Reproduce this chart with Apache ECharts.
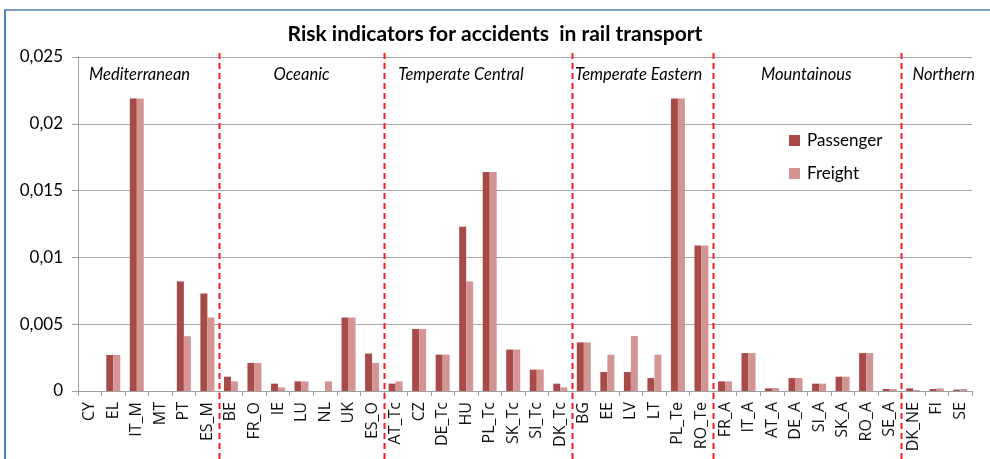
<!DOCTYPE html>
<html>
<head>
<meta charset="utf-8">
<script src="https://cdn.jsdelivr.net/npm/echarts@6/dist/echarts.min.js"></script>
<style>
  html, body { margin: 0; padding: 0; background: #fff; }
  #chart { width: 990px; height: 459px; }
</style>
</head>
<body>
<div id="chart"></div>
<script>
// Member states / sub-areas, grouped by climate region
const categories = [
  'CY', 'EL', 'IT_M', 'MT', 'PT', 'ES_M',
  'BE', 'FR_O', 'IE', 'LU', 'NL', 'UK', 'ES_O',
  'AT_Tc', 'CZ', 'DE_Tc', 'HU', 'PL_Tc', 'SK_Tc', 'SI_Tc', 'DK_Tc',
  'BG', 'EE', 'LV', 'LT', 'PL_Te', 'RO_Te',
  'FR_A', 'IT_A', 'AT_A', 'DE_A', 'SI_A', 'SK_A', 'RO_A', 'SE_A',
  'DK_NE', 'FI', 'SE'
];

const passenger = [
  0, 0.0027, 0.0219, 0, 0.0082, 0.0073,
  0.00107, 0.0021, 0.00055, 0.00072, 0, 0.0055, 0.0028,
  0.00055, 0.00464, 0.00272, 0.0123, 0.0164, 0.0031, 0.0016, 0.00055,
  0.00364, 0.00142, 0.00142, 0.00097, 0.0219, 0.0109,
  0.00072, 0.00284, 0.0002, 0.00097, 0.00055, 0.00107, 0.00284, 0.00015,
  0.0002, 0.00015, 0.0001
];

const freight = [
  0, 0.0027, 0.0219, 0, 0.0041, 0.0055,
  0.00072, 0.0021, 0.00027, 0.00072, 0.00072, 0.0055, 0.0021,
  0.00072, 0.00464, 0.00272, 0.0082, 0.0164, 0.0031, 0.0016, 0.00027,
  0.00364, 0.00272, 0.00412, 0.00272, 0.0219, 0.0109,
  0.00072, 0.00284, 0.00022, 0.00097, 0.00055, 0.00107, 0.00284, 0.00015,
  0.00007, 0.0002, 0.00015
];

// Climate regions: name and index of the first category in each
const regionNames = ['Mediterranean', 'Oceanic', 'Temperate Central', 'Temperate Eastern', 'Mountainous', 'Northern'];
const regionStarts = [0, 6, 13, 21, 27, 35];

const yTicks = { min: 0, max: 0.025, interval: 0.005 };

const PASSENGER_COLOR = '#A84A47';
const FREIGHT_COLOR = '#D39593';

const chart = echarts.init(document.getElementById('chart'), null, { renderer: 'canvas' });

chart.setOption({
  animation: false,
  backgroundColor: '#ffffff',
  title: {
    text: 'Risk indicators for accidents  in rail transport',
    left: 'center',
    top: 19,
    textStyle: { fontFamily: 'Lato', fontWeight: 'bold', fontSize: 21, color: '#000' }
  },
  legend: {
    orient: 'vertical',
    left: 784,
    top: 127,
    itemWidth: 11,
    itemHeight: 11,
    itemGap: 16,
    icon: 'rect',
    textStyle: { fontFamily: 'Lato', fontSize: 17, color: '#000', padding: [0, 0, 0, 2] },
    data: ['Passenger', 'Freight']
  },
  grid: { left: 78, top: 57, right: 18, bottom: 68, containLabel: false },
  xAxis: {
    type: 'category',
    data: categories,
    axisLine: { show: true, lineStyle: { color: '#A0A0A0', width: 1 } },
    axisTick: { show: true, alignWithLabel: false, length: 5, lineStyle: { color: '#A0A0A0' } },
    axisLabel: {
      interval: 0,
      rotate: 90,
      margin: 11,
      fontFamily: 'Open Sans',
      fontSize: 16,
      color: '#111'
    }
  },
  yAxis: {
    type: 'value',
    min: yTicks.min,
    max: yTicks.max,
    interval: yTicks.interval,
    axisLine: { show: true, lineStyle: { color: '#A0A0A0', width: 1 } },
    axisTick: { show: true, length: 6, lineStyle: { color: '#A0A0A0' } },
    splitLine: { show: true, lineStyle: { color: '#A6A6A6', width: 1 } },
    axisLabel: {
      margin: 15,
      fontFamily: 'Lato',
      fontSize: 17,
      color: '#000',
      formatter: v => String(+v.toFixed(3)).replace('.', ',')
    }
  },
  series: [
    {
      name: 'Passenger',
      type: 'bar',
      data: passenger,
      barWidth: 7,
      barGap: '0%',
      itemStyle: { color: PASSENGER_COLOR }
    },
    {
      name: 'Freight',
      type: 'bar',
      data: freight,
      barWidth: 7,
      barGap: '0%',
      itemStyle: { color: FREIGHT_COLOR }
    }
  ]
});

// Region separators and region names, placed from the category axis
function catX(i) {
  return chart.convertToPixel({ xAxisIndex: 0 }, i);
}
const half = (catX(1) - catX(0)) / 2;
const graphics = [];

regionStarts.forEach((start, r) => {
  if (r > 0) {
    const x = Math.round(catX(start) - half) + 0.5;
    graphics.push({
      type: 'line',
      silent: true,
      shape: { x1: x, y1: 53, x2: x, y2: 459 },
      style: { stroke: '#FF1A1A', lineWidth: 2, lineDash: [6, 4] },
      z: 10
    });
  }
});

// Region name positions: centred over the region, a few nudged left
const regionNudge = [-9, 0, -17, -4, -1, 0];
regionNames.forEach((name, r) => {
  const start = regionStarts[r];
  const end = r + 1 < regionStarts.length ? regionStarts[r + 1] : categories.length;
  const cx = (catX(start) - half + catX(end - 1) + half) / 2 + regionNudge[r];
  const isLast = r === regionNames.length - 1;
  graphics.push({
    type: 'text',
    silent: true,
    x: isLast ? catX(start) - half + 11 : cx,
    y: 75,
    style: {
      text: name,
      fontFamily: 'Lato',
      fontStyle: 'italic',
      fontSize: 16.5,
      fill: '#000',
      align: isLast ? 'left' : 'center',
      verticalAlign: 'middle'
    },
    z: 10
  });
});

// Outer chart frame (top and left edges)
graphics.push({
  type: 'line', silent: true,
  shape: { x1: 4, y1: 10, x2: 990, y2: 10 },
  style: { stroke: '#7F9CC4', lineWidth: 2 }
});
graphics.push({
  type: 'line', silent: true,
  shape: { x1: 5, y1: 10, x2: 5, y2: 459 },
  style: { stroke: '#4F81BD', lineWidth: 2 }
});

chart.setOption({ graphic: graphics });
</script>
</body>
</html>
